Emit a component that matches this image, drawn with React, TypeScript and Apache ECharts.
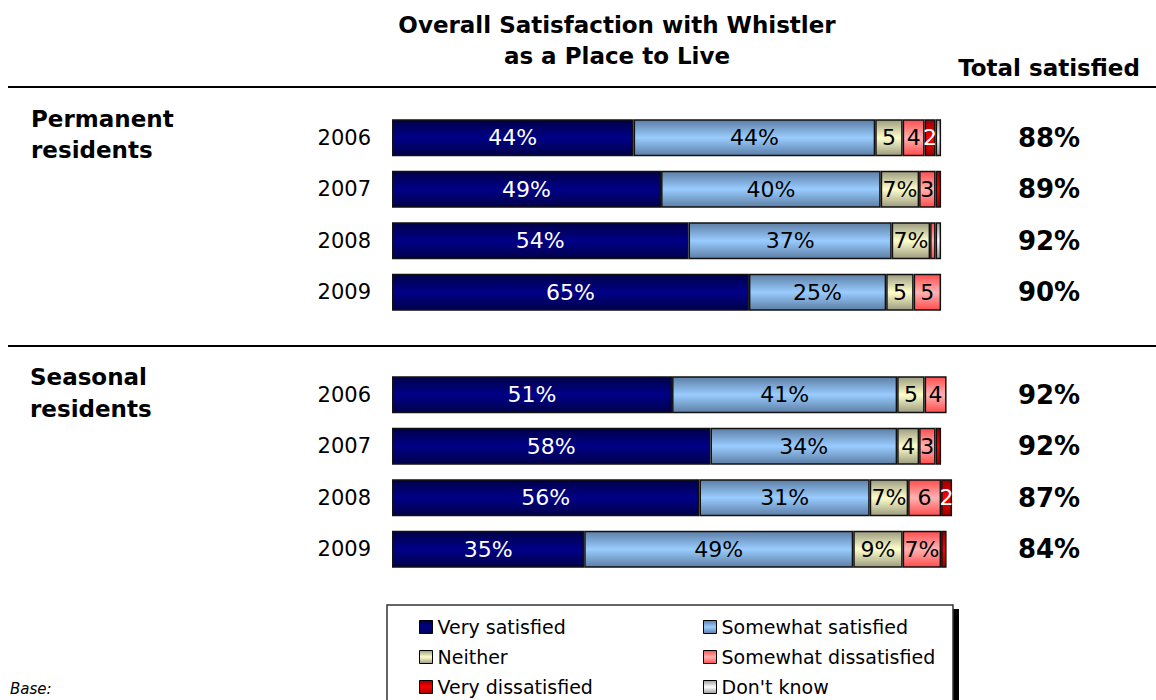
import React, { useEffect, useRef } from "react";
import * as echarts from "echarts";

// ---- data ----
const years = ["2006", "2007", "2008", "2009"];
const seriesNames = [
  "Very satisfied",
  "Somewhat satisfied",
  "Neither",
  "Somewhat dissatisfied",
  "Very dissatisfied",
  "Don't know",
];
const permVerySat = [44, 49, 54, 65];
const permSomeSat = [44, 40, 37, 25];
const permNeither = [5, 7, 7, 5];
const permSomeDis = [4, 3, 1, 5];
const permVeryDis = [2, 1, 0, 0];
const permDontKnow = [1, 0, 1, 0];
const seasVerySat = [51, 58, 56, 35];
const seasSomeSat = [41, 34, 31, 49];
const seasNeither = [5, 4, 7, 9];
const seasSomeDis = [4, 3, 6, 7];
const seasVeryDis = [0, 1, 2, 1];
const seasDontKnow = [0, 0, 0, 0];
const permTotal = [88, 89, 92, 90];
const seasTotal = [92, 92, 87, 84];

const FONT = '"DejaVu Sans", Verdana, sans-serif';

const grad = (edge: string, mid: string) =>
  new echarts.graphic.LinearGradient(0, 0, 0, 1, [
    { offset: 0, color: edge },
    { offset: 0.5, color: mid },
    { offset: 1, color: edge },
  ]);

const styles = [
  { fill: grad("#00004a", "#000088"), label: "#ffffff" },
  { fill: grad("#5d7fa6", "#99ccff"), label: "#000000" },
  { fill: grad("#9c9c80", "#ffffcc"), label: "#000000" },
  { fill: grad("#ff4d4d", "#ffb3b3"), label: "#000000" },
  { fill: grad("#990000", "#ff0000"), label: "#ffffff" },
  { fill: grad("#9a9a9a", "#ffffff"), label: "#000000" },
];

// legend slot per series: [column, row]
const legendSlots = [
  [0, 0],
  [1, 0],
  [0, 1],
  [1, 1],
  [0, 2],
  [1, 2],
];

const labelText = (v: number) => (v >= 7 ? `${v}%` : v >= 2 ? `${v}` : "");

export default function App() {
  const ref = useRef<HTMLDivElement>(null);
  useEffect(() => {
    if (!ref.current) return;
    const chart = echarts.init(ref.current, null, { renderer: "svg" });
    const permData = [permVerySat, permSomeSat, permNeither, permSomeDis, permVeryDis, permDontKnow];
    const seasData = [seasVerySat, seasSomeSat, seasNeither, seasSomeDis, seasVeryDis, seasDontKnow];

    const makeSeries = (data: number[][], gi: number) =>
      data.map((vals, i) => ({
        name: seriesNames[i],
        type: "bar",
        stack: "g" + gi,
        xAxisIndex: gi,
        yAxisIndex: gi * 2,
        barWidth: 37,
        data: vals.map((v) => (v === 0 ? "-" : v)),
        itemStyle: { color: styles[i].fill, borderColor: "#111", borderWidth: 1.5 },
        label: {
          show: true,
          position: "inside",
          color: styles[i].label,
          fontFamily: FONT,
          fontSize: 22,
          formatter: (p: any) => labelText(p.value),
        },
      }));

    const yAxes: any[] = [];
    [permTotal, seasTotal].forEach((tot, gi) => {
      yAxes.push({
        type: "category",
        gridIndex: gi,
        data: years,
        inverse: true,
        axisLine: { show: false },
        axisTick: { show: false },
        axisLabel: { fontFamily: FONT, fontSize: 21, color: "#000", margin: 21, padding: [4, 0, 0, 0] },
      });
      yAxes.push({
        type: "category",
        gridIndex: gi,
        data: years,
        inverse: true,
        position: "right",
        axisLine: { show: false },
        axisTick: { show: false },
        axisLabel: {
          fontFamily: FONT,
          fontSize: 26,
          fontWeight: "bold",
          color: "#000",
          align: "center",
          margin: 53,
          padding: [3, 0, 0, 0],
          formatter: (_v: string, idx: number) => `${tot[idx]}%`,
        },
      });
    });

    const legends = seriesNames.map((name, i) => ({
      orient: "horizontal",
      left: legendSlots[i][0] === 0 ? 414 : 698,
      top: 612 + legendSlots[i][1] * 30,
      itemWidth: 13,
      itemHeight: 13,
      icon: "rect",
      selectedMode: false,
      data: [name],
      itemStyle: { borderColor: "#000", borderWidth: 1 },
      textStyle: { fontFamily: FONT, fontSize: 19, color: "#000", lineHeight: 20 },
    }));

    chart.setOption({
      animation: false,
      backgroundColor: "#ffffff",
      title: {
        text: "Overall Satisfaction with Whistler\nas a Place to Live",
        left: 612,
        top: 4,
        textAlign: "center",
        textStyle: { fontFamily: FONT, fontSize: 23, fontWeight: "bold", color: "#000", lineHeight: 31 },
      },
      legend: legends,
      grid: [
        { left: 392, top: 112, width: 604, height: 206 },
        { left: 392, top: 369, width: 604, height: 206 },
      ],
      xAxis: [
        { type: "value", gridIndex: 0, min: 0, max: 110, show: false },
        { type: "value", gridIndex: 1, min: 0, max: 110, show: false },
      ],
      yAxis: yAxes,
      series: [...makeSeries(permData, 0), ...makeSeries(seasData, 1)],
      graphic: [
        { type: "line", shape: { x1: 8, y1: 87, x2: 1156, y2: 87 }, style: { stroke: "#000", lineWidth: 2 } },
        { type: "line", shape: { x1: 8, y1: 346, x2: 1156, y2: 346 }, style: { stroke: "#000", lineWidth: 2 } },
        {
          type: "text", x: 1049, y: 68,
          style: { text: "Total satisfied", font: `bold 23px ${FONT}`, fill: "#000", align: "center", verticalAlign: "middle" },
        },
        { type: "text", x: 31, y: 119, style: { text: "Permanent", font: `bold 23px ${FONT}`, fill: "#000", verticalAlign: "middle" } },
        { type: "text", x: 31, y: 150, style: { text: "residents", font: `bold 23px ${FONT}`, fill: "#000", verticalAlign: "middle" } },
        { type: "text", x: 30, y: 377, style: { text: "Seasonal", font: `bold 23px ${FONT}`, fill: "#000", verticalAlign: "middle" } },
        { type: "text", x: 30, y: 409, style: { text: "residents", font: `bold 23px ${FONT}`, fill: "#000", verticalAlign: "middle" } },
        { type: "text", x: 10, y: 689, style: { text: "Base:", font: `italic 15px ${FONT}`, fill: "#000", verticalAlign: "middle" } },
        { type: "rect", z: -2, shape: { x: 953, y: 609, width: 6, height: 100 }, style: { fill: "#000" } },
        { type: "rect", z: -1, shape: { x: 387, y: 605, width: 566, height: 100 }, style: { fill: "#fff", stroke: "#333", lineWidth: 1.5 } },
      ],
    });
    return () => chart.dispose();
  }, []);
  return <div ref={ref} style={{ position: "fixed", left: 0, top: 0, width: 1156, height: 700 }} />;
}
